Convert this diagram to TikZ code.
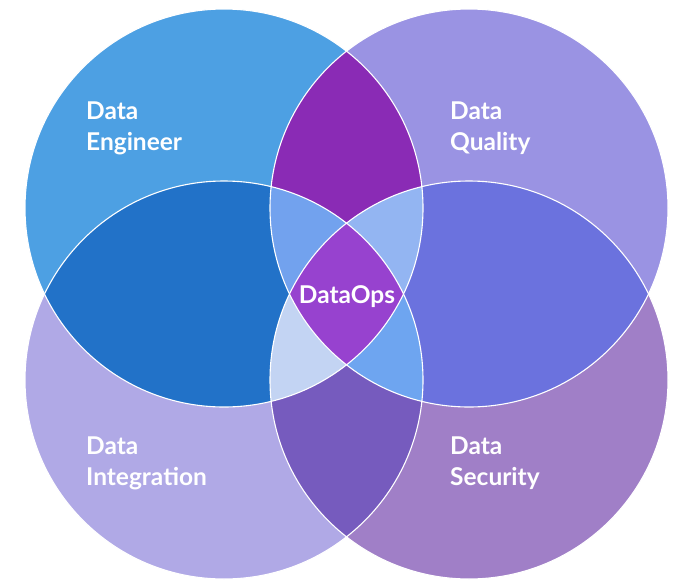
\documentclass[tikz,border=0pt]{standalone}
\usepackage{fontspec}
\setmainfont{Lato}
\usetikzlibrary{positioning}

\definecolor{engcol}{HTML}{4DA0E3}
\definecolor{qualcol}{HTML}{9A93E3}
\definecolor{intcol}{HTML}{B0A9E6}
\definecolor{seccol}{HTML}{A07FC7}
\definecolor{eqcol}{HTML}{8A2BB5}
\definecolor{eicol}{HTML}{2272C8}
\definecolor{qscol}{HTML}{6B72DE}
\definecolor{iscol}{HTML}{765BBE}
\definecolor{eqicol}{HTML}{72A2EE}
\definecolor{eqscol}{HTML}{93B5F2}
\definecolor{eiscol}{HTML}{C3D4F3}
\definecolor{qiscol}{HTML}{6EA5F0}
\definecolor{opscol}{HTML}{9742CF}

\begin{document}
\begin{tikzpicture}[x=1pt, y=-1pt,
    lbl/.style={text=white, font=\fontsize{24.5}{31}\selectfont\bfseries, align=left, inner sep=0pt, anchor=west},
    rim/.style={draw=white, line width=1.1pt}]
    \useasboundingbox (0,0) rectangle (675,579);

    \coordinate (E) at (224,208);
    \coordinate (Q) at (469,208);
    \coordinate (I) at (224,380);
    \coordinate (S) at (469,380);
    \def\rad{199pt}

    % single sets
    \fill[engcol] (E) circle (\rad);
    \fill[qualcol] (Q) circle (\rad);
    \fill[intcol] (I) circle (\rad);
    \fill[seccol] (S) circle (\rad);

    % pairs
    \begin{scope} \clip (E) circle (\rad); \fill[eqcol] (Q) circle (\rad); \end{scope}
    \begin{scope} \clip (E) circle (\rad); \fill[eicol] (I) circle (\rad); \end{scope}
    \begin{scope} \clip (Q) circle (\rad); \fill[qscol] (S) circle (\rad); \end{scope}
    \begin{scope} \clip (I) circle (\rad); \fill[iscol] (S) circle (\rad); \end{scope}

    % triples
    \begin{scope} \clip (E) circle (\rad); \clip (Q) circle (\rad); \fill[eqicol] (I) circle (\rad); \end{scope}
    \begin{scope} \clip (E) circle (\rad); \clip (Q) circle (\rad); \fill[eqscol] (S) circle (\rad); \end{scope}
    \begin{scope} \clip (E) circle (\rad); \clip (I) circle (\rad); \fill[eiscol] (S) circle (\rad); \end{scope}
    \begin{scope} \clip (Q) circle (\rad); \clip (I) circle (\rad); \fill[qiscol] (S) circle (\rad); \end{scope}

    % all four
    \begin{scope}
        \clip (E) circle (\rad); \clip (Q) circle (\rad); \clip (I) circle (\rad);
        \fill[opscol] (S) circle (\rad);
    \end{scope}

    \foreach \c in {E,Q,I,S}
        \draw[rim] (\c) circle (\rad);

    \node[lbl] (eng) at (86,128) {Data\\Engineer};
    \node[lbl] (qual) at (450,128) {Data\\Quality};
    \node[lbl] (integ) at (86,463) {Data\\Integration};
    \node[lbl] (sec) at (450,463) {Data\\Security};
    \node[lbl, anchor=center] (ops) at (347,297) {DataOps};
\end{tikzpicture}
\end{document}
